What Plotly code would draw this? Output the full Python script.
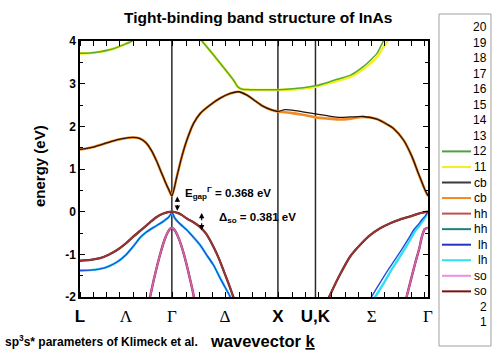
import plotly.graph_objects as go

# ---------------- data ----------------
K_SYM = [0.866, 1.866, 2.220]  # Gamma, X, U/K (vertical lines)
K_RANGE = [0.0, 3.281]
E_RANGE = [-2.0, 4.0]

K_TICK_VALS = [0.0, 0.433, 0.866, 1.366, 1.866, 2.220, 2.750, 3.281]
K_TICK_TEXT = ["<b>L</b>", "Λ", "Γ", "Δ", "<b>X</b>", "<b>U,K</b>", "Σ", "Γ"]
E_TICK_VALS = [4, 3, 2, 1, 0, -1, -2]
E_TICK_TEXT = ["4", "3", "2", "1", "0", "-1", "-2"]

# band 12 (green) and band 11 (yellow)
B12_K = [0, 0.1, 0.19, 0.27, 0.35, 0.42, 0.49, 0.52, None,
         1.13, 1.149, 1.25, 1.35, 1.448, 1.49, 1.53, 1.6, 1.7, 1.866,
         1.95, 2.05, 2.15, 2.22, 2.36, 2.45, 2.55, 2.67, 2.75, 2.8, 2.86, 2.87]
B12_E = [3.71, 3.72, 3.75, 3.79, 3.85, 3.92, 4.0, 4.04, None,
         4.05, 4.0, 3.7, 3.39, 3.08, 2.92, 2.87, 2.86, 2.855, 2.86,
         2.87, 2.89, 2.92, 2.95, 3.05, 3.12, 3.2, 3.4, 3.58, 3.71, 4.0, 4.05]
B11_K = [0, 0.1, 0.19, 0.27, 0.35, 0.42, 0.49, 0.52, None,
         1.13, 1.149, 1.25, 1.35, 1.448, 1.49, 1.53, 1.6, 1.7, 1.866,
         1.95, 2.05, 2.15, 2.22, 2.36, 2.45, 2.55, 2.67, 2.75, 2.8, 2.86, 2.9, 2.92]
B11_E = [3.71, 3.72, 3.75, 3.79, 3.85, 3.92, 4.0, 4.04, None,
         4.05, 4.0, 3.7, 3.39, 3.08, 2.92, 2.87, 2.855, 2.85, 2.85,
         2.86, 2.87, 2.9, 2.93, 3.02, 3.08, 3.16, 3.34, 3.5, 3.62, 3.85, 4.0, 4.06]

# conduction band pair (cb)
CB_K = [0, 0.1, 0.2, 0.3, 0.4, 0.5, 0.56, 0.62, 0.67, 0.72, 0.77, 0.8, 0.84, 0.866,
        0.913, 0.96, 1.008, 1.071, 1.133, 1.227, 1.322, 1.416, 1.495, 1.574, 1.65, 1.72, 1.8, 1.866,
        1.93, 2.0, 2.1, 2.22, 2.35, 2.45, 2.55, 2.67, 2.8, 2.9, 2.956, 3.05, 3.13, 3.19, 3.254, 3.281]
CB1_E = [1.46, 1.5, 1.57, 1.65, 1.71, 1.74, 1.72, 1.62, 1.45, 1.2, 0.9, 0.72, 0.5, 0.368,
         0.82, 1.29, 1.68, 2.07, 2.30, 2.50, 2.66, 2.77, 2.81, 2.73, 2.6, 2.48, 2.39, 2.35,
         2.39, 2.38, 2.34, 2.29, 2.24, 2.21, 2.22, 2.23, 2.17, 2.04, 1.95, 1.68, 1.29, 0.9, 0.5, 0.368]
CB2_E = [1.46, 1.5, 1.57, 1.65, 1.71, 1.74, 1.72, 1.62, 1.45, 1.2, 0.9, 0.72, 0.5, 0.368,
         0.82, 1.29, 1.68, 2.07, 2.30, 2.50, 2.66, 2.77, 2.81, 2.73, 2.6, 2.48, 2.39, 2.35,
         2.33, 2.31, 2.27, 2.21, 2.18, 2.16, 2.18, 2.22, 2.17, 2.04, 1.95, 1.68, 1.29, 0.9, 0.5, 0.368]

# heavy hole pair (hh)
HH_K = [0, 0.1, 0.19, 0.27, 0.35, 0.43, 0.5, 0.58, 0.66, 0.72, 0.78, 0.83, 0.866,
        0.92, 0.96, 1.007, 1.07, 1.132, 1.19, 1.258, 1.31, 1.352, 1.40, 1.446, 1.46, None,
        2.34, 2.358, 2.45, 2.547, 2.64, 2.736, 2.83, 2.925, 3.02, 3.113, 3.2, 3.281]
HH_E = [-1.15, -1.13, -1.09, -1.01, -0.9, -0.75, -0.59, -0.42, -0.25, -0.13, -0.05, -0.01, 0.0,
        -0.03, -0.08, -0.16, -0.25, -0.36, -0.52, -0.82, -1.1, -1.37, -1.68, -2.0, -2.1, None,
        -2.05, -1.95, -1.48, -1.05, -0.78, -0.55, -0.39, -0.27, -0.18, -0.11, -0.04, 0.0]

# light hole pair (lh)
LH1_K = [0, 0.1, 0.19, 0.27, 0.35, 0.43, 0.5, 0.57, 0.63, 0.7, 0.76, 0.8, 0.835, 0.855, 0.866,
         0.88, 0.896, 0.94, 1.007, 1.07, 1.132, 1.19, 1.258, 1.33, 1.415, 1.43, None,
         2.74, 2.75, 2.84, 2.925, 2.99, 3.05, 3.10, 3.145, 3.19, 3.223, 3.255, 3.27, 3.281]
LH1_E = [-1.38, -1.37, -1.34, -1.28, -1.18, -1.02, -0.82, -0.6, -0.47, -0.36, -0.27, -0.2, -0.13, -0.06, 0.0,
         -0.08, -0.16, -0.28, -0.43, -0.6, -0.78, -1.0, -1.25, -1.6, -1.99, -2.08, None,
         -2.05, -1.99, -1.62, -1.29, -1.05, -0.82, -0.62, -0.43, -0.3, -0.19, -0.1, -0.04, 0.0]
LH2_K = [0, 0.1, 0.19, 0.27, 0.35, 0.43, 0.5, 0.57, 0.63, 0.7, 0.76, 0.8, 0.835, 0.855, 0.866,
         0.88, 0.896, 0.94, 1.007, 1.07, 1.132, 1.19, 1.258, 1.33, 1.415, 1.43, None,
         2.77, 2.785, 2.87, 2.945, 3.0, 3.06, 3.11, 3.155, 3.2, 3.23, 3.26, 3.272, 3.281]
LH2_E = [-1.38, -1.37, -1.34, -1.28, -1.18, -1.02, -0.82, -0.6, -0.47, -0.36, -0.27, -0.2, -0.13, -0.06, 0.0,
         -0.08, -0.16, -0.28, -0.43, -0.6, -0.78, -1.0, -1.25, -1.6, -1.99, -2.08, None,
         -2.05, -1.99, -1.65, -1.33, -1.12, -0.88, -0.67, -0.47, -0.33, -0.22, -0.11, -0.05, 0.0]

# split-off pair (so)
SO_K = [0.655, 0.66, 0.7, 0.75, 0.8, 0.83, 0.85, 0.866, 0.88, 0.9, 0.93, 0.98, 1.03, 1.07, 1.075, None,
        3.075, 3.08, 3.16, 3.2, 3.223, 3.25, 3.281]
SO_E = [-2.05, -2.0, -1.55, -1.05, -0.64, -0.47, -0.4, -0.38, -0.4, -0.46, -0.62, -1.0, -1.5, -1.95, -2.05, None,
        -2.05, -1.99, -1.21, -0.85, -0.59, -0.41, -0.38]

E_GAP = 0.368
D_SO = 0.381

LEGEND_LABELS = ["20", "19", "18", "17", "16", "15", "14", "13", "12", "11",
                 "cb", "cb", "hh", "hh", "lh", "lh", "so", "so", "2", "1"]
LEGEND_COLORS = [None] * 8 + ["#4f9f45", "#f2f020", "#3a3a3a", "#f08a24", "#c0504d",
                              "#1f7f7f", "#2234c0", "#2ee0f0", "#ee8ee0", "#7a1010"] + [None, None]

# ---------------- figure ----------------
FONT = "Arial, Liberation Sans, sans-serif"
SERIF = "Liberation Serif, Times New Roman, serif"
W, H = 499, 357
ML, MR, MT, MB = 80, 71, 41, 60
PW, PH = W - ML - MR, H - MT - MB


def px_x(px):
    return (px - ML) / PW


def px_y(py):
    return (H - MB - py) / PH


def tick_label(t):
    if t.startswith("<b>"):
        return t
    return "<span style='font-family:%s'>%s</span>" % (SERIF, t)


fig = go.Figure()

# traces in drawing order (underlying first); legend drawn manually
traces = [
    (SO_K, SO_E, "#8a2050", 2.4),      # so (maroon)
    (SO_K, SO_E, "#d464aa", 1.7),      # so (violet)
    (LH2_K, LH2_E, "#2ee0f0", 2.4),    # lh (cyan)
    (LH1_K, LH1_E, "#1f4fd8", 1.4),    # lh (blue)
    (HH_K, HH_E, "#5a2a2a", 2.3),      # hh (teal)
    (HH_K, HH_E, "#9a3434", 1.7),      # hh (indianred)
    (CB_K, CB2_E, "#f08a24", 2.6),     # cb (orange)
    (CB_K, CB1_E, "#2a1208", 1.3),     # cb (dark)
    (B11_K, B11_E, "#f2f020", 2.6),    # 11 (yellow)
    (B12_K, B12_E, "#5aaa30", 1.5),    # 12 (green)
]
for k, e, c, w in traces:
    fig.add_trace(go.Scatter(x=k, y=e, mode="lines", showlegend=False,
                             line=dict(color=c, width=w, shape="spline", smoothing=0.7),
                             hoverinfo="skip"))

# vertical lines at high-symmetry points
for ks in K_SYM:
    fig.add_shape(type="line", xref="x", yref="paper", x0=ks, x1=ks, y0=0, y1=1,
                  line=dict(color="#2a2a2a", width=1.5), layer="below")

# gap arrows (double headed: two arrows from the middle outwards)
for xa, y_lo, y_hi in [(0.918, 0.02, E_GAP - 0.01), (1.147, -D_SO - 0.06, -0.03)]:
    ym = (y_lo + y_hi) / 2
    for yend in (y_lo, y_hi):
        fig.add_annotation(x=xa, y=yend, ax=xa, ay=ym, xref="x", yref="y",
                           axref="x", ayref="y", showarrow=True, arrowhead=2,
                           arrowsize=0.9, arrowwidth=1.2, arrowcolor="black", text="",
                           standoff=0, startstandoff=0)

fig.add_annotation(x=0.975, y=0.43, xref="x", yref="y", xanchor="left", yanchor="middle",
                   showarrow=False,
                   text="<b>E<sub>gap</sub><sup>Γ</sup> = %.3f eV</b>" % E_GAP,
                   font=dict(family=FONT, size=11.5, color="black"))
fig.add_annotation(x=1.29, y=-0.15, xref="x", yref="y", xanchor="left", yanchor="middle",
                   showarrow=False,
                   text="<b>Δ<sub>so</sub> = %.3f eV</b>" % D_SO,
                   font=dict(family=FONT, size=11.5, color="black"))

# titles / labels
fig.add_annotation(x=px_x(258), y=px_y(17), xref="paper", yref="paper", showarrow=False,
                   text="<b>Tight-binding band structure of InAs</b>",
                   font=dict(family=FONT, size=15.5, color="black"),
                   xanchor="center", yanchor="middle")
fig.add_annotation(x=px_x(39), y=px_y(166), xref="paper", yref="paper", showarrow=False,
                   text="<b>energy (eV)</b>", textangle=-90,
                   xanchor="center", yanchor="middle",
                   font=dict(family=FONT, size=15, color="black"))
fig.add_annotation(x=px_x(262), y=px_y(341), xref="paper", yref="paper", showarrow=False,
                   text="<b>wavevector <u>k</u></b>", xanchor="center", yanchor="middle",
                   font=dict(family=FONT, size=16.5, color="black"))
fig.add_annotation(x=px_x(3), y=px_y(341), xref="paper", yref="paper", showarrow=False,
                   xanchor="left", yanchor="middle",
                   text="<b>sp<sup>3</sup>s* parameters of Klimeck et al.</b>",
                   font=dict(family=FONT, size=12, color="black"))

# manual legend
fig.add_shape(type="rect", xref="paper", yref="paper", x0=px_x(439), x1=px_x(491),
              y0=px_y(346), y1=px_y(14), line=dict(color="#a0a0a0", width=1),
              fillcolor="white", layer="below")
for i, (lab, col) in enumerate(zip(LEGEND_LABELS, LEGEND_COLORS)):
    yc = 27 + i * 15.55
    if col is not None:
        fig.add_shape(type="line", xref="paper", yref="paper", x0=px_x(442), x1=px_x(471),
                      y0=px_y(yc), y1=px_y(yc), line=dict(color=col, width=2))
    fig.add_annotation(x=px_x(489), y=px_y(yc), xref="paper", yref="paper", showarrow=False,
                       xanchor="right", yanchor="middle", text=lab,
                       font=dict(family=FONT, size=12, color="black"))

fig.update_layout(
    width=W, height=H, margin=dict(l=ML, r=MR, t=MT, b=MB),
    paper_bgcolor="white", plot_bgcolor="white", showlegend=False,
    xaxis=dict(range=K_RANGE, showgrid=False, zeroline=False,
               showline=True, linecolor="black", linewidth=1.5, mirror="ticks",
               tickvals=K_TICK_VALS, ticktext=[tick_label(t) for t in K_TICK_TEXT],
               ticks="", ticklabelstandoff=3,
               tickfont=dict(family=FONT, size=17, color="black"),
               minor=dict(dtick=0.125, tick0=0, ticks="inside", ticklen=5,
                          tickcolor="black", tickwidth=1.2, showgrid=False)),
    yaxis=dict(range=E_RANGE, showgrid=False, zeroline=False,
               showline=True, linecolor="black", linewidth=1.5, mirror="ticks",
               tickvals=E_TICK_VALS, ticktext=E_TICK_TEXT, ticks="inside", ticklen=5,
               tickwidth=1.2, tickcolor="black",
               tickfont=dict(family=FONT, size=12, color="black", weight="bold"),
               minor=dict(dtick=0.5, tick0=0, ticks="inside", ticklen=3,
                          tickcolor="black", tickwidth=1.2, showgrid=False)),
)

fig.write_html("out.html", config={"displayModeBar": False},
               post_script="document.body.style.margin='0px';")
